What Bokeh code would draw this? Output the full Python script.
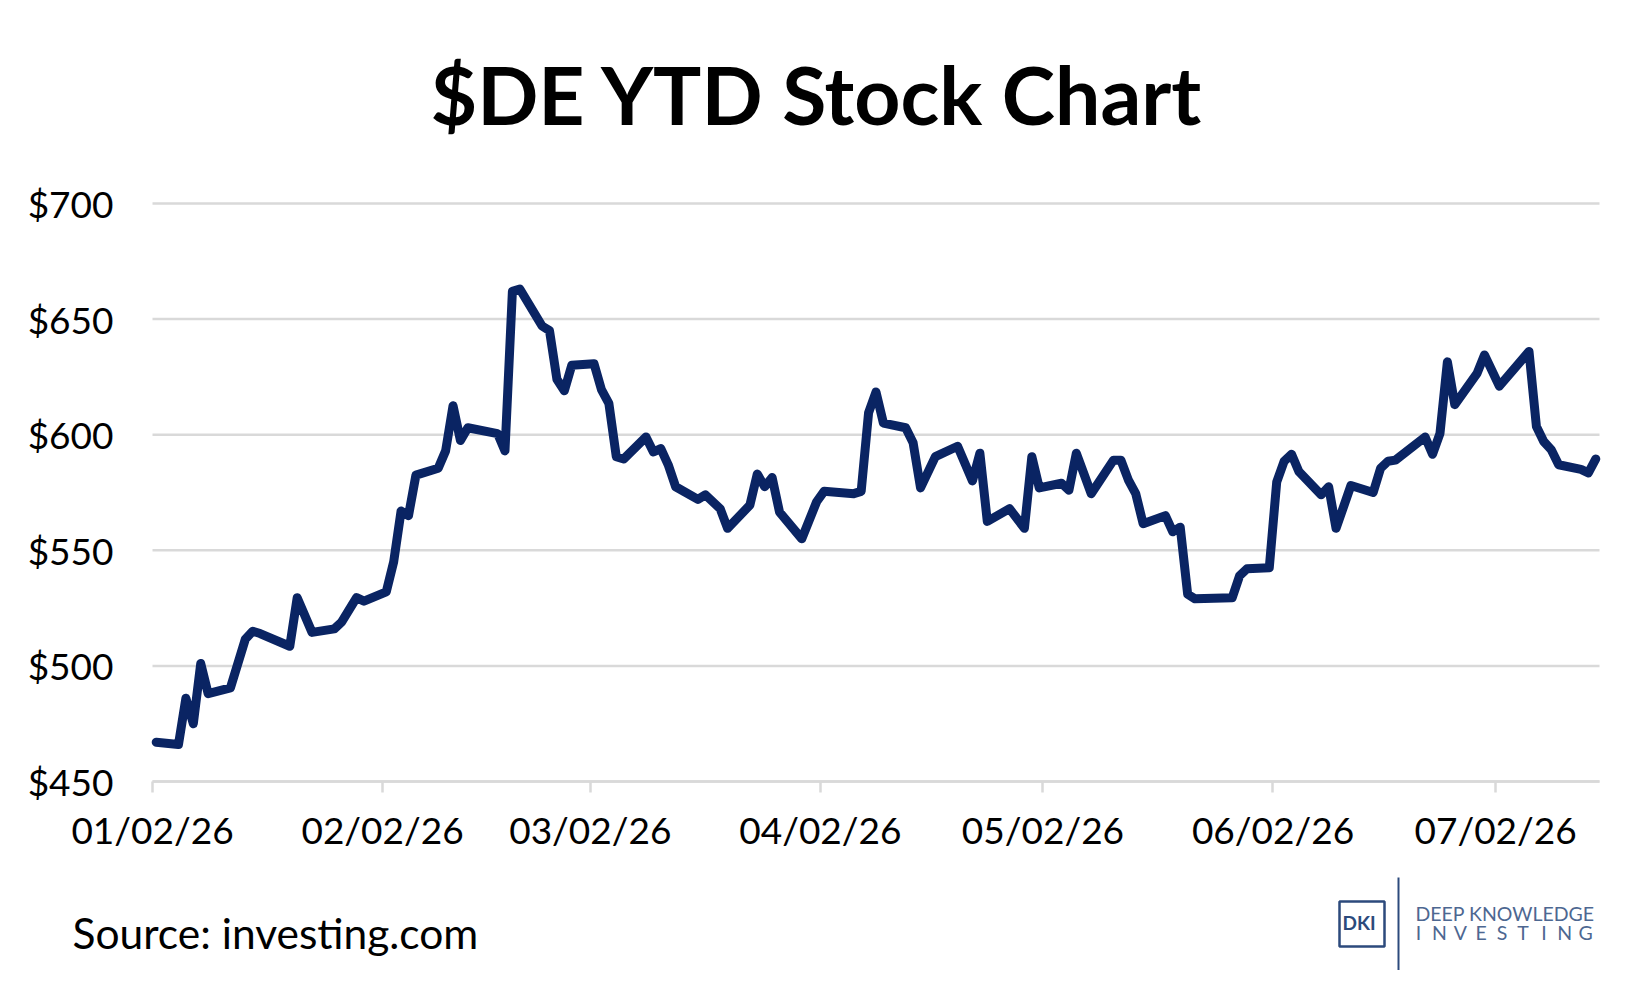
from bokeh.plotting import figure
from bokeh.models import FixedTicker, Range1d, ColumnDataSource
from bokeh.core.properties import value
from bokeh.embed import file_html
from bokeh.resources import INLINE
import pandas as pd

# ---------------- data ----------------
dates = [
    "2026-01-02", "2026-01-05", "2026-01-06", "2026-01-07", "2026-01-08", "2026-01-09",
    "2026-01-12", "2026-01-14", "2026-01-15", "2026-01-16", "2026-01-20", "2026-01-21",
    "2026-01-23", "2026-01-26", "2026-01-27", "2026-01-29", "2026-01-30",
    "2026-02-02", "2026-02-03", "2026-02-04", "2026-02-05", "2026-02-06", "2026-02-09",
    "2026-02-10", "2026-02-11", "2026-02-12", "2026-02-13", "2026-02-17", "2026-02-18",
    "2026-02-19", "2026-02-20", "2026-02-23", "2026-02-24", "2026-02-25", "2026-02-26",
    "2026-02-27",
    "2026-03-02", "2026-03-03", "2026-03-04", "2026-03-05", "2026-03-06", "2026-03-09",
    "2026-03-10", "2026-03-11", "2026-03-12", "2026-03-13", "2026-03-16", "2026-03-17",
    "2026-03-19", "2026-03-20", "2026-03-23", "2026-03-24", "2026-03-25", "2026-03-26",
    "2026-03-27", "2026-03-30",
    "2026-04-01", "2026-04-02", "2026-04-06", "2026-04-07", "2026-04-08", "2026-04-09",
    "2026-04-10", "2026-04-13", "2026-04-14", "2026-04-15", "2026-04-17", "2026-04-20",
    "2026-04-22", "2026-04-23", "2026-04-24", "2026-04-27", "2026-04-29", "2026-04-30",
    "2026-05-01", "2026-05-04", "2026-05-05", "2026-05-06", "2026-05-08", "2026-05-11",
    "2026-05-12", "2026-05-13", "2026-05-14", "2026-05-15", "2026-05-18", "2026-05-19",
    "2026-05-20", "2026-05-21", "2026-05-22", "2026-05-27", "2026-05-28", "2026-05-29",
    "2026-06-01", "2026-06-02", "2026-06-03", "2026-06-04", "2026-06-05", "2026-06-08",
    "2026-06-09", "2026-06-10", "2026-06-12", "2026-06-15", "2026-06-16", "2026-06-17",
    "2026-06-18", "2026-06-22", "2026-06-23", "2026-06-24", "2026-06-25", "2026-06-26",
    "2026-06-29", "2026-06-30",
    "2026-07-02", "2026-07-06", "2026-07-07", "2026-07-08", "2026-07-09", "2026-07-10",
    "2026-07-13", "2026-07-14", "2026-07-15",
]
prices = [
    467.0, 466.0, 486.0, 475.0, 501.0, 488.0,
    490.5, 511.5, 515.0, 514.0, 508.5, 529.5,
    514.5, 516.0, 519.0, 529.5, 528.0,
    532.0, 545.0, 567.0, 565.0, 582.5, 585.5,
    593.0, 612.5, 597.5, 603.0, 600.5, 593.0,
    662.0, 663.0, 647.0, 645.0, 624.0, 619.0,
    630.0,
    630.7, 619.5, 613.5, 590.5, 589.5, 599.0,
    592.5, 594.0, 587.0, 577.5, 572.0, 574.0,
    568.0, 559.5, 569.5, 583.0, 577.5, 581.5,
    566.5, 555.0,
    571.0, 575.5, 574.5, 575.5, 609.5, 618.5,
    605.0, 603.0, 596.5, 577.0, 590.5, 595.0,
    580.0, 592.0, 562.5, 568.0, 559.5, 590.5,
    577.0, 579.0, 576.0, 592.0, 574.5, 589.0,
    589.0, 580.5, 574.5, 561.5, 565.0, 558.0,
    560.0, 531.0, 529.0, 529.5, 539.0, 542.0,
    542.5, 579.5, 588.5, 591.5, 584.0, 574.0,
    577.5, 559.5, 578.0, 575.0, 585.5, 588.5,
    589.0, 599.0, 591.5, 600.5, 631.5, 613.0,
    626.5, 634.5,
    621.0, 636.0, 603.5, 597.0, 593.5, 587.0,
    585.0, 583.5, 589.5,
]
x_tick_dates = ["2026-01-02", "2026-02-02", "2026-03-02", "2026-04-02",
                "2026-05-02", "2026-06-02", "2026-07-02"]
x_tick_labels = ["01/02/26", "02/02/26", "03/02/26", "04/02/26",
                 "05/02/26", "06/02/26", "07/02/26"]
y_ticks = [450, 500, 550, 600, 650, 700]
y_tick_labels = ["$450", "$500", "$550", "$600", "$650", "$700"]
axis_start = "2026-01-02"
axis_end = "2026-07-16"

title_text = "$DE YTD Stock Chart"
source_text = "Source: investing.com"
logo_box_text = "DKI"
logo_line1 = "DEEP KNOWLEDGE"
logo_line2 = list("INVESTING")

# ---------------- layout constants (pixels) ----------------
FONT = "Lato"
W, H = 1634, 970
PLOT_L, PLOT_R = 152, 1599      # x of first / last date on the canvas
PLOT_T, PLOT_B = 203, 781       # y of $700 / $450 on the canvas
grey = "#d9d9d9"
navy = "#0a2463"
logo_dark = "#2c4a7c"
logo_light = "#4d6791"


def ms(d):
    return pd.Timestamp(d).value / 1e6


x0, x1 = ms(axis_start), ms(axis_end)
y0, y1 = y_ticks[0], y_ticks[-1]
kx = (x1 - x0) / (PLOT_R - PLOT_L)
ky = (y1 - y0) / (PLOT_B - PLOT_T)

p = figure(width=W, height=H, x_axis_type="datetime",
           x_range=Range1d(x0 - PLOT_L * kx, x1 + (W - PLOT_R) * kx),
           y_range=Range1d(y0 - (H - PLOT_B) * ky, y1 + PLOT_T * ky),
           output_backend="svg", toolbar_location=None, min_border=0)
p.outline_line_color = None
p.xgrid.visible = False
p.ygrid.visible = False
# pixel coordinate system (y measured from the top) for the page texts
p.extra_x_ranges = {"px": Range1d(0, W)}
p.extra_y_ranges = {"py": Range1d(H, 0)}

# ---------------- axes ----------------
xt = [ms(d) for d in x_tick_dates]
p.xaxis.fixed_location = y0
p.xaxis.bounds = (x0, x1)
p.xaxis.ticker = FixedTicker(ticks=xt)
p.xaxis.major_label_overrides = {t: lab for t, lab in zip(xt, x_tick_labels)}
p.xaxis.axis_line_color = grey
p.xaxis.axis_line_width = 2.5
p.xaxis.major_tick_line_color = grey
p.xaxis.major_tick_line_width = 2.5
p.xaxis.major_tick_out = 11
p.xaxis.major_tick_in = 0
p.xaxis.minor_tick_line_color = None
p.xaxis.major_label_text_font = FONT
p.xaxis.major_label_text_font_size = "37px"
p.xaxis.major_label_text_color = "black"
p.xaxis.major_label_standoff = 14

p.yaxis.fixed_location = x0
p.yaxis.bounds = (y0, y1)
p.yaxis.ticker = FixedTicker(ticks=y_ticks)
p.yaxis.major_label_overrides = {t: lab for t, lab in zip(y_ticks, y_tick_labels)}
p.yaxis.axis_line_color = None
p.yaxis.major_tick_line_color = None
p.yaxis.minor_tick_line_color = None
p.yaxis.major_tick_out = 0
p.yaxis.major_tick_in = 0
p.yaxis.major_label_text_font = FONT
p.yaxis.major_label_text_font_size = "37px"
p.yaxis.major_label_text_color = "black"
p.yaxis.major_label_standoff = 39

# horizontal gridlines, one per y tick, spanning the date axis
p.segment(x0=[x0] * len(y_ticks), y0=y_ticks, x1=[x1] * len(y_ticks), y1=y_ticks,
          line_color=grey, line_width=2.5)

# ---------------- price line ----------------
xs = [pd.Timestamp(d) + pd.Timedelta(hours=12) for d in dates]  # middle of each day slot
src = ColumnDataSource(data=dict(x=xs, y=prices))
p.line("x", "y", source=src, line_color=navy, line_width=9,
       line_join="round", line_cap="round")

# ---------------- page texts ----------------
def txt(x, y, t, size, color="black", style="normal", align="left"):
    p.text(x=x, y=y, text=t, x_range_name="px", y_range_name="py",
           text_font=value(FONT), text_font_style=style, text_font_size=size,
           text_color=color, text_align=align, text_baseline="alphabetic")


txt([817], [93], [title_text], "80.5px", style="bold", align="center")
txt([72], [931.5], [source_text], "42.5px")

# logo
p.quad(left=[1339], right=[1384], top=[901], bottom=[946], x_range_name="px",
       y_range_name="py", fill_alpha=0, line_color=logo_dark, line_width=2.5)
p.segment(x0=[1398], y0=[877], x1=[1398], y1=[970], x_range_name="px",
          y_range_name="py", line_color=logo_dark, line_width=2)
txt([1342], [922], [logo_box_text], "19px", color=logo_dark, style="bold")
txt([1415], [913], [logo_line1], "19.5px", color=logo_light)
txt([1418 + 20.9 * i for i in range(len(logo_line2))], [932] * len(logo_line2),
    logo_line2, "19.5px", color=logo_light, align="center")

open("out.html", "w").write(file_html(p, INLINE))
